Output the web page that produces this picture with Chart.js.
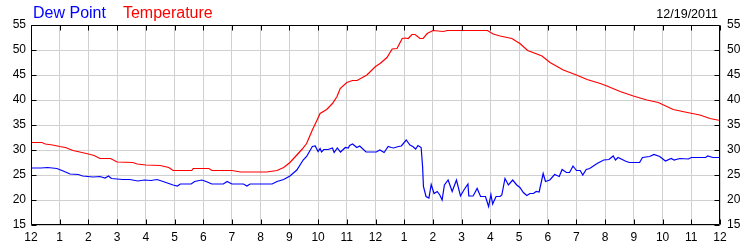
<!DOCTYPE html>
<html>
<head>
<meta charset="utf-8">
<script src="https://cdn.jsdelivr.net/npm/chart.js@4/dist/chart.umd.min.js"></script>
<style>
html,body{margin:0;padding:0;background:#fff;}
#wrap{width:750px;height:250px;position:relative;}
</style>
</head>
<body>
<div id="wrap"><canvas id="c" width="750" height="250"></canvas></div>
<script>
const seriesNames = ["Dew Point", "Temperature"];
const seriesColors = ["#0000ff", "#ff0000"];
const dateLabel = "12/19/2011";
const hourLabels = ["12","1","2","3","4","5","6","7","8","9","10","11","12","1","2","3","4","5","6","7","8","9","10","11","12"];
const yTicks = [15,20,25,30,35,40,45,50,55];

const tempHours = [0,0.38,0.5,0.75,1.0,1.2,1.46,1.7,2.0,2.2,2.4,2.77,3.0,3.55,3.7,4.0,4.5,4.8,4.95,5.6,5.65,6.2,6.3,7.0,7.3,8.2,8.57,8.8,9.02,9.26,9.45,9.6,9.8,9.95,10.07,10.3,10.5,10.66,10.77,11.0,11.2,11.36,11.7,12.0,12.16,12.4,12.58,12.75,12.93,13.03,13.14,13.27,13.38,13.55,13.66,13.8,14.0,14.36,14.5,15.0,15.9,16.1,16.34,16.75,17.03,17.3,17.8,18.08,18.54,19.0,19.37,19.83,20.06,20.52,20.98,21.45,21.85,22.37,22.86,23.3,23.65,24.0];
const tempValues = [31.5,31.5,31.2,31.0,30.7,30.5,29.9,29.6,29.2,28.9,28.3,28.3,27.6,27.5,27.2,27.0,26.9,26.5,25.9,25.9,26.3,26.3,25.9,25.9,25.6,25.6,25.9,26.5,27.5,29.0,30.2,31.3,34.0,35.8,37.3,38.1,39.3,40.7,42.3,43.5,43.9,43.9,45.0,46.7,47.3,48.5,50.2,50.3,52.3,52.4,52.3,53.1,53.1,52.3,52.3,53.3,53.9,53.7,53.9,53.9,53.9,53.2,52.8,52.3,51.3,49.9,48.8,47.5,46.0,45.0,44.1,43.3,42.8,41.7,40.8,40.0,39.5,38.1,37.5,37.0,36.3,35.9];

const dewHours = [0,0.35,0.58,0.9,1.08,1.36,1.65,1.8,2.16,2.4,2.58,2.7,2.8,3.2,3.44,3.72,3.95,4.18,4.39,4.6,4.95,5.1,5.2,5.58,5.7,5.95,6.1,6.3,6.7,6.83,7.0,7.4,7.52,7.63,8.4,8.57,8.8,9.02,9.26,9.48,9.6,9.8,9.9,10.0,10.07,10.12,10.2,10.35,10.5,10.56,10.67,10.78,10.95,11.05,11.1,11.2,11.35,11.45,11.67,12.03,12.15,12.3,12.44,12.55,12.63,12.8,12.9,13.07,13.2,13.3,13.4,13.48,13.59,13.64,13.67,13.76,13.86,13.94,14.04,14.15,14.24,14.32,14.4,14.53,14.67,14.82,14.96,15.08,15.22,15.25,15.4,15.54,15.66,15.83,15.94,16.02,16.08,16.2,16.34,16.4,16.51,16.63,16.78,16.92,17.03,17.15,17.27,17.38,17.5,17.6,17.7,17.84,17.92,18.07,18.24,18.4,18.5,18.65,18.76,18.88,19.0,19.13,19.22,19.34,19.46,19.72,19.95,20.13,20.28,20.36,20.45,20.7,20.84,21.2,21.3,21.55,21.7,21.9,22.1,22.3,22.4,22.6,22.9,23.0,23.5,23.57,23.75,24.0];
const dewValues = [26.4,26.4,26.5,26.3,25.9,25.2,25.1,24.8,24.6,24.7,24.4,24.8,24.3,24.1,24.1,23.8,24.0,23.9,24.1,23.7,23.0,22.8,23.2,23.2,23.7,24.0,23.7,23.2,23.2,23.7,23.2,23.2,22.8,23.2,23.2,23.7,24.1,24.8,26.0,28.0,28.7,30.7,30.8,29.7,30.3,29.6,30.1,30.1,30.4,29.5,30.4,29.6,30.5,30.4,30.9,31.2,30.5,30.8,29.6,29.6,30.0,29.5,30.7,30.5,30.4,30.7,30.8,32.0,31.0,30.7,30.2,30.9,30.5,26.7,22.7,20.7,20.4,23.1,21.3,21.7,21.0,20.0,23.0,24.0,21.7,24.0,20.8,22.0,23.2,20.8,20.8,22.3,20.7,20.7,18.7,21.1,19.2,20.7,20.7,21.0,24.3,23.0,24.0,23.0,22.5,21.5,20.9,21.3,21.3,21.7,21.6,25.3,23.7,24.0,25.1,24.7,26.1,25.5,25.5,26.8,25.9,25.9,25.0,26.1,26.3,27.3,28.0,28.1,28.8,28.0,28.5,27.8,27.5,27.5,28.5,28.7,29.1,28.7,27.8,28.3,28.0,28.3,28.2,28.5,28.5,28.8,28.5,28.5];

const toPoints = (xs, ys) => xs.map((x, i) => ({x: x, y: ys[i]}));
const FONT = "'Liberation Sans', Arial, sans-serif";

const framePlugin = {
  id: 'frame',
  afterDraw(chart) {
    const ctx = chart.ctx;
    const a = chart.chartArea;
    const L = Math.round(a.left) + 0.5, R = Math.round(a.right) - 0.5;
    const T = Math.round(a.top) + 0.5, B = Math.round(a.bottom) - 0.5;
    ctx.save();
    ctx.strokeStyle = '#000';
    ctx.lineWidth = 1;
    ctx.beginPath();
    ctx.rect(L, T, R - L, B - T);
    const xs = chart.scales.x;
    xs.ticks.forEach(t => {
      const p = Math.round(xs.getPixelForValue(t.value)) + 0.5;
      ctx.moveTo(p, B); ctx.lineTo(p, B - 5);
      ctx.moveTo(p, T); ctx.lineTo(p, T + 5);
    });
    const ys = chart.scales.y;
    ys.ticks.forEach(t => {
      const p = Math.round(ys.getPixelForValue(t.value)) + 0.5;
      ctx.moveTo(L, p); ctx.lineTo(L + 5, p);
      ctx.moveTo(R, p); ctx.lineTo(R - 5, p);
    });
    ctx.stroke();
    // header texts
    ctx.textBaseline = 'alphabetic';
    ctx.font = '16px ' + FONT;
    ctx.textAlign = 'left';
    let x = 33;
    chart.data.datasets.forEach((ds, i) => {
      ctx.fillStyle = ds.borderColor;
      ctx.fillText(ds.label, x, 17.5);
      x += ctx.measureText(ds.label).width + 17;
    });
    ctx.font = '12.5px ' + FONT;
    ctx.fillStyle = '#000';
    ctx.textAlign = 'right';
    ctx.fillText(dateLabel, 718, 17.5);
    ctx.restore();
  }
};

new Chart(document.getElementById('c'), {
  type: 'line',
  data: {
    datasets: [
      {label: seriesNames[0], data: toPoints(dewHours, dewValues), borderColor: seriesColors[0], borderWidth: 1.2, pointRadius: 0, tension: 0, fill: false},
      {label: seriesNames[1], data: toPoints(tempHours, tempValues), borderColor: seriesColors[1], borderWidth: 1.2, pointRadius: 0, tension: 0, fill: false}
    ]
  },
  options: {
    responsive: false,
    animation: false,
    events: [],
    layout: {padding: {top: 25, left: 0, right: 0, bottom: 0}},
    plugins: {legend: {display: false}, tooltip: {enabled: false}, title: {display: false}},
    scales: {
      x: {
        type: 'linear', min: 0, max: 24,
        afterBuildTicks(s) { s.ticks = hourLabels.map((l, i) => ({value: i})); },
        ticks: {callback: (v) => hourLabels[v], color: '#000', padding: 5, maxRotation: 0, autoSkip: false, font: {family: FONT, size: 12}},
        grid: {color: '#d0d0d0', lineWidth: 1, drawTicks: false},
        border: {display: false},
        afterFit(s) { s.height = 25; }
      },
      y: {
        type: 'linear', position: 'left', min: 15, max: 55,
        afterBuildTicks(s) { s.ticks = yTicks.map(v => ({value: v})); },
        ticks: {color: '#000', padding: 5, font: {family: FONT, size: 12}},
        grid: {color: '#d0d0d0', lineWidth: 1, drawTicks: false},
        border: {display: false},
        afterFit(s) { s.width = 31; }
      },
      y2: {
        type: 'linear', position: 'right', min: 15, max: 55,
        afterBuildTicks(s) { s.ticks = yTicks.map(v => ({value: v})); },
        ticks: {color: '#000', padding: 7, font: {family: FONT, size: 12}},
        grid: {drawOnChartArea: false, drawTicks: false},
        border: {display: false},
        afterFit(s) { s.width = 30; }
      }
    }
  },
  plugins: [framePlugin]
});
</script>
</body>
</html>
